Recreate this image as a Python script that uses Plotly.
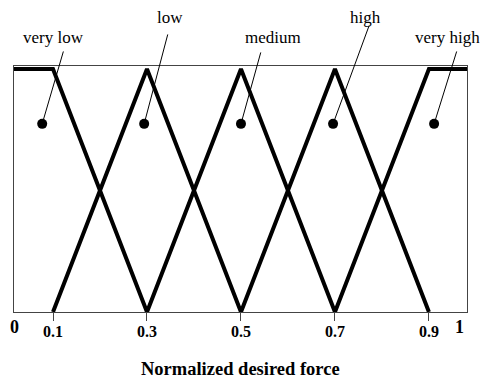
import plotly.graph_objects as go

# membership functions (x = normalized desired force, y = membership degree)
x_min, x_max = 0.017, 0.981
mf_names = ["very low", "low", "medium", "high", "very high"]
mf_x = [
    [x_min, 0.1, 0.3],
    [0.1, 0.3, 0.5],
    [0.3, 0.5, 0.7],
    [0.5, 0.7, 0.9],
    [0.7, 0.9, x_max],
]
mf_y = [
    [1, 1, 0],
    [0, 1, 0],
    [0, 1, 0],
    [0, 1, 0],
    [0, 1, 1],
]

# label callouts: dot position, leader end (data units), text position (y in paper units)
dot_x = [0.077, 0.294, 0.5, 0.696, 0.911]
dot_y = [0.774, 0.774, 0.774, 0.774, 0.774]
lead_x = [0.123, 0.345, 0.543, 0.774, 0.96]
lead_y = [1.078, 1.148, 1.074, 1.185, 1.078]
label_x = [0.1, 0.349, 0.568, 0.766, 0.94]
label_y = [1.114, 1.199, 1.114, 1.196, 1.114]

tick_vals = [0.1, 0.3, 0.5, 0.7, 0.9]
tick_text = ["0.1", "0.3", "0.5", "0.7", "0.9"]

serif = "Liberation Serif"

fig = go.Figure()
for name, xs, ys in zip(mf_names, mf_x, mf_y):
    fig.add_trace(go.Scatter(x=xs, y=ys, mode="lines", name=name,
                             line=dict(color="black", width=4)))

fig.add_trace(go.Scatter(x=dot_x, y=dot_y, mode="markers",
                         marker=dict(color="black", size=10)))

# leader lines as arrowless annotations (not clipped to the plot area)
for dx, dy, lx, ly in zip(dot_x, dot_y, lead_x, lead_y):
    fig.add_annotation(x=dx, y=dy, ax=lx, ay=ly, axref="x", ayref="y",
                       text="", showarrow=True, arrowhead=0, arrowwidth=1,
                       arrowcolor="black", standoff=0, font=dict(size=1))

for name, lx, ly in zip(mf_names, label_x, label_y):
    fig.add_annotation(x=lx, y=ly, yref="paper", text=name, showarrow=False,
                       yanchor="middle",
                       font=dict(family=serif, size=17, color="black"))

# end labels of the axis
fig.add_annotation(x=x_min, y=0, text="0", showarrow=False, yanchor="top", yshift=-3,
                   font=dict(family=serif, size=18, color="black", weight="bold"))
fig.add_annotation(x=0.964, y=0, text="1", showarrow=False, yanchor="top", yshift=-3,
                   font=dict(family=serif, size=18, color="black", weight="bold"))

fig.add_annotation(x=0.5, y=-0.23, xref="paper", yref="paper", yanchor="middle",
                   text="Normalized desired force", showarrow=False,
                   font=dict(family=serif, size=18.5, color="black", weight="bold"))

# page body adds an 8px margin, so the figure is offset by it
fig.update_layout(width=472, height=372, autosize=False,
                  margin=dict(l=6, r=13, t=58, b=68),
                  paper_bgcolor="white", plot_bgcolor="white",
                  showlegend=False)
fig.update_xaxes(range=[x_min, x_max], tickvals=tick_vals, ticktext=tick_text,
                 ticks="outside", ticklen=8, tickcolor="#444", ticklabelstandoff=-3,
                 tickfont=dict(family=serif, size=16, color="black", weight="bold"),
                 showline=True, mirror=True, linecolor="#444", linewidth=1,
                 showgrid=False, zeroline=False)
fig.update_yaxes(range=[0, 1.012], showticklabels=False, ticks="",
                 showline=True, mirror=True, linecolor="#444", linewidth=1,
                 showgrid=False, zeroline=False)

fig.write_html("out.html")
